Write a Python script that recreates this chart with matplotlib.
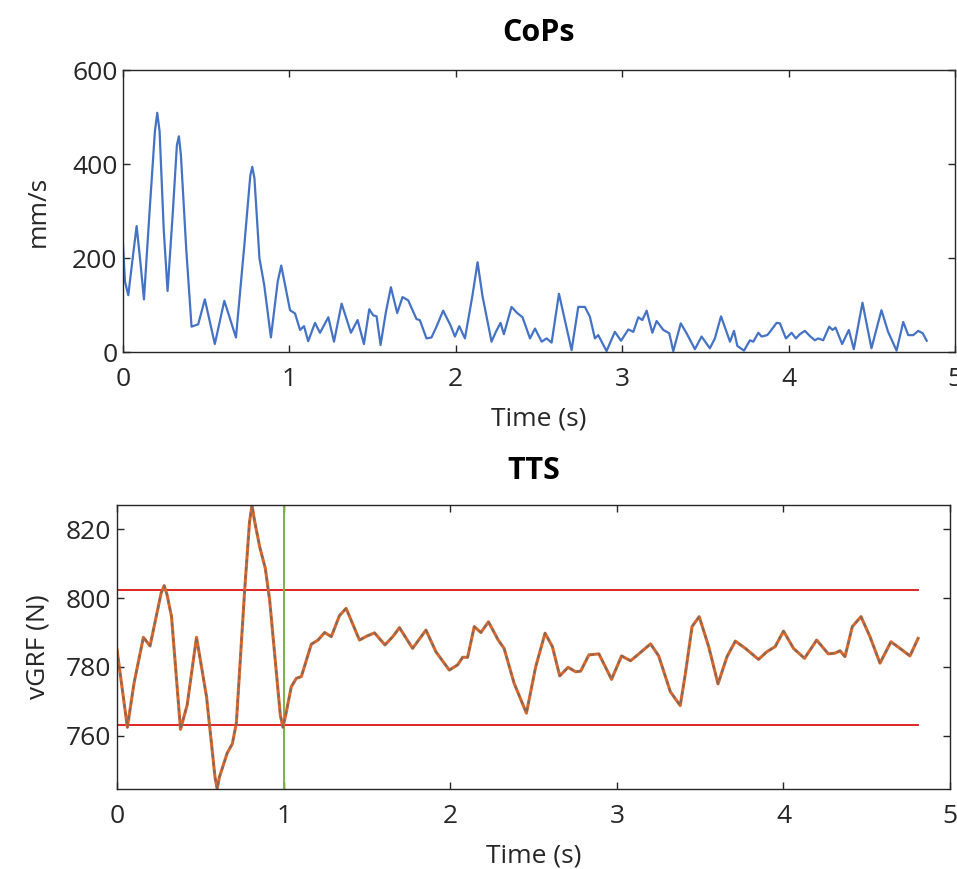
import numpy as np
import matplotlib.pyplot as plt

plt.rcParams['font.family'] = ['Open Sans', 'DejaVu Sans']

# CoPs speed (mm/s), peaks and troughs
cop_t = [0.0, 0.012, 0.032, 0.055, 0.082, 0.105, 0.126, 0.160, 0.192, 0.206,
         0.220, 0.245, 0.268, 0.300, 0.324, 0.336, 0.348, 0.380, 0.412, 0.452,
         0.492, 0.552, 0.609, 0.679, 0.730, 0.765, 0.777, 0.790, 0.820, 0.849,
         0.889, 0.930, 0.951, 0.970, 1.004, 1.034, 1.064,
         1.088, 1.113, 1.154, 1.184, 1.234, 1.268, 1.314, 1.370, 1.410, 1.448,
         1.480, 1.504, 1.524, 1.548, 1.580, 1.610, 1.648, 1.680, 1.714, 1.764,
         1.784, 1.824, 1.854, 1.884, 1.924, 1.968, 1.995, 2.021, 2.055, 2.100,
         2.131, 2.160, 2.215, 2.241, 2.269, 2.289, 2.335, 2.369, 2.401, 2.446,
         2.476, 2.516, 2.546, 2.576, 2.620, 2.696, 2.736, 2.776, 2.806, 2.836,
         2.856, 2.906, 2.956, 2.993, 3.037, 3.067, 3.097, 3.121, 3.147, 3.181,
         3.207, 3.247, 3.283, 3.307, 3.352, 3.387, 3.437, 3.477, 3.527, 3.557,
         3.594, 3.648, 3.672, 3.692, 3.732, 3.768, 3.788, 3.818, 3.838, 3.872,
         3.888, 3.928, 3.948, 3.984, 4.018, 4.044, 4.068, 4.098, 4.128, 4.158,
         4.178, 4.208, 4.244, 4.264, 4.282, 4.322, 4.362, 4.392, 4.444, 4.498,
         4.558, 4.598, 4.649, 4.689, 4.719, 4.749, 4.779, 4.806, 4.830]
cop_v = [230, 150, 121, 190, 268, 190, 112, 300, 470, 509,
         470, 260, 130, 300, 440, 459, 420, 220, 54, 59,
         112, 17, 109, 31, 230, 375, 394, 370, 200, 142,
         31, 150, 184, 150, 89, 82, 47,
         55, 23, 62, 41, 74, 22, 103, 41, 68, 17,
         91, 78, 76, 15, 85, 138, 83, 117, 110, 70,
         68, 29, 31, 54, 88, 57, 33, 55, 29, 120,
         191, 120, 22, 43, 62, 38, 96, 83, 74, 29,
         50, 22, 29, 20, 124, 4, 96, 96, 75, 29,
         36, 2, 43, 24, 48, 43, 74, 68, 88, 41,
         66, 47, 40, 2, 61, 40, 6, 33, 8, 29,
         76, 22, 45, 13, 3, 25, 22, 41, 33, 36,
         43, 62, 61, 29, 41, 29, 38, 45, 34, 25,
         29, 25, 54, 47, 52, 17, 47, 6, 105, 8,
         89, 43, 3, 64, 36, 36, 45, 40, 24]

# TTS vertical ground reaction force (N)
grf_t = [0.0, 0.062, 0.102, 0.158, 0.198, 0.265, 0.283, 0.300, 0.327, 0.381,
         0.421, 0.477, 0.537, 0.588, 0.601, 0.614, 0.661, 0.692, 0.716, 0.766,
         0.795, 0.810, 0.825, 0.856, 0.890, 0.916, 0.980, 0.996, 1.012, 1.046,
         1.076, 1.106, 1.166, 1.206, 1.246, 1.286, 1.335, 1.375,
         1.455, 1.497, 1.545, 1.608, 1.655, 1.695, 1.774, 1.854, 1.914, 1.994,
         2.044, 2.074, 2.104, 2.144, 2.184, 2.229, 2.288, 2.323, 2.383, 2.457,
         2.513, 2.569, 2.613, 2.657, 2.707, 2.753, 2.783, 2.832, 2.892, 2.968,
         3.028, 3.082, 3.132, 3.202, 3.251, 3.321, 3.380, 3.411, 3.451, 3.494,
         3.551, 3.607, 3.661, 3.711, 3.771, 3.850, 3.900, 3.950, 4.000, 4.060,
         4.126, 4.199, 4.269, 4.309, 4.339, 4.369, 4.413, 4.465, 4.519, 4.579,
         4.645, 4.699, 4.759, 4.808]
grf_v = [784.9, 762.5, 775.3, 788.6, 786.1, 801.5, 803.6, 801.0, 794.6, 761.9,
         769.0, 788.6, 771.4, 748.0, 744.6, 748.0, 755.0, 757.7, 763.7, 802.3,
         822.0, 827.0, 822.5, 814.9, 808.6, 799.4, 766.0, 762.5, 766.0, 774.3,
         776.7, 777.2, 786.6, 787.8, 790.0, 788.8, 794.9, 797.0,
         787.8, 788.9, 789.9, 786.4, 788.8, 791.4, 785.4, 790.7, 784.4, 779.1,
         780.6, 782.8, 782.8, 791.7, 790.0, 793.1, 787.8, 785.4, 775.3, 766.6,
         780.1, 789.8, 785.9, 777.4, 779.9, 778.6, 778.8, 783.5, 783.8, 776.4,
         783.2, 781.8, 783.8, 786.7, 783.2, 772.8, 768.8, 778.0, 791.7, 794.6,
         785.9, 775.1, 783.0, 787.5, 785.4, 782.2, 784.4, 785.9, 790.4, 785.4,
         782.5, 787.8, 783.8, 784.0, 784.7, 783.0, 791.7, 794.6, 788.8, 781.1,
         787.3, 785.4, 783.2, 788.3]

upper_limit = 802.3
lower_limit = 763.2
limit_span = [0.0, 4.808]
settle_time = 1.0

fig = plt.figure(figsize=(9.57, 8.69), dpi=100)
ax1 = fig.add_axes([0.1285, 0.5949, 0.8694, 0.3245])
ax2 = fig.add_axes([0.1223, 0.0921, 0.8705, 0.3268])

edge = '#262626'
for ax in (ax1, ax2):
    for s in ax.spines.values():
        s.set_color(edge)
        s.set_linewidth(1.0)
    ax.tick_params(direction='in', top=True, right=True, length=5, width=1,
                   color=edge, labelcolor=edge, labelsize=19)
    ax.tick_params(axis='x', pad=11)
    ax.tick_params(axis='y', pad=4)

# top panel
ax1.plot(cop_t, cop_v, color='#4472C4', lw=1.6)
ax1.set_xlim(0, 5)
ax1.set_ylim(0, 600)
ax1.set_yticks([0, 200, 400, 600])
ax1.set_xticks([0, 1, 2, 3, 4, 5])
ax1.set_title('CoPs', fontsize=22, fontweight='bold', pad=21)
ax1.set_xlabel('Time (s)', fontsize=19, color=edge, labelpad=10)
ax1.set_ylabel('mm/s', fontsize=19, color=edge, labelpad=15)

# bottom panel
ax2.plot(limit_span, [upper_limit, upper_limit], color='#E02424', lw=1.4)
ax2.plot(limit_span, [lower_limit, lower_limit], color='#E02424', lw=1.4)
ax2.axvline(settle_time, color='#7CB342', lw=1.4)
ax2.plot(grf_t, grf_v, color='#D9662A', lw=2.2)
ax2.plot(grf_t, grf_v, color='#7a6a60', lw=1.4, dashes=(2, 2))
ax2.set_xlim(0, 5)
ax2.set_ylim(744.6, 827)
ax2.set_yticks([760, 780, 800, 820])
ax2.set_xticks([0, 1, 2, 3, 4, 5])
ax2.set_title('TTS', fontsize=22, fontweight='bold', pad=19)
ax2.set_xlabel('Time (s)', fontsize=19, color=edge, labelpad=10)
ax2.set_ylabel('vGRF (N)', fontsize=19, color=edge, labelpad=11)

fig.savefig('out.png', dpi=100)
